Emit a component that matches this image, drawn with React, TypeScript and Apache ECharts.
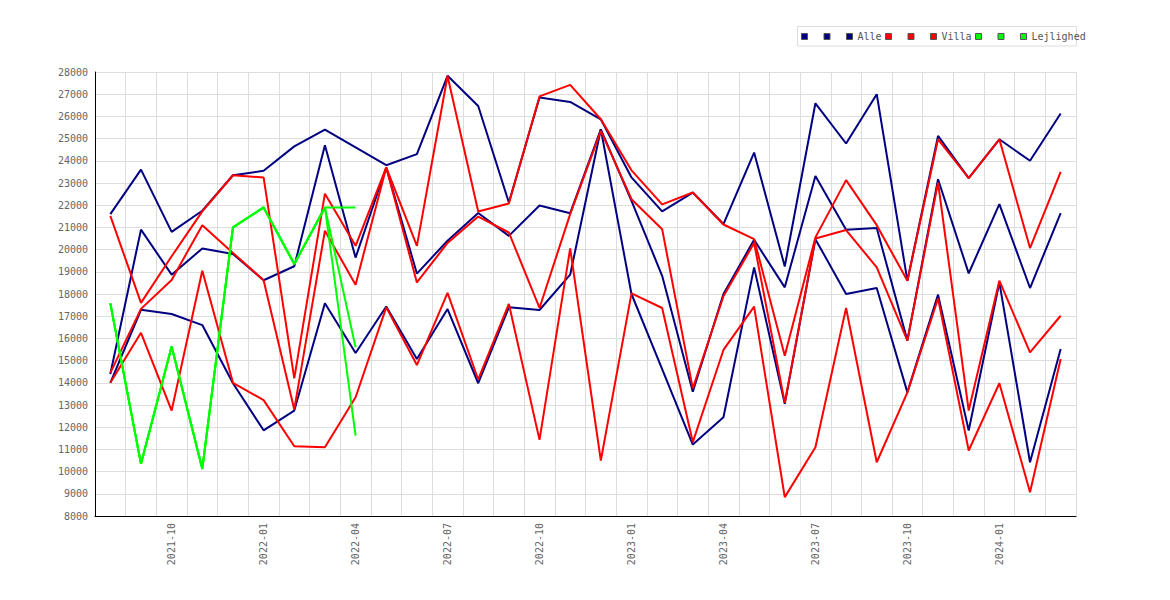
import React, { useEffect, useRef } from 'react';
import * as echarts from 'echarts';

const months = [
  '2021-08', '2021-09', '2021-10', '2021-11', '2021-12', '2022-01', '2022-02', '2022-03',
  '2022-04', '2022-05', '2022-06', '2022-07', '2022-08', '2022-09', '2022-10', '2022-11',
  '2022-12', '2023-01', '2023-02', '2023-03', '2023-04', '2023-05', '2023-06', '2023-07',
  '2023-08', '2023-09', '2023-10', '2023-11', '2023-12', '2024-01', '2024-02', '2024-03',
];

const alleHigh = [21600, 23600, 20800, 21750, 23350, 23550, 24650, 25400, 24600, 23800, 24300, 27830, 26470, 22120, 26850, 26650, 25870, 23250, 21720, 22570, 21150, 24370, 19240, 26590, 24780, 27000, 18600, 25120, 23220, 24970, 24000, 26130];
const alleMid = [14400, 20900, 18870, 20050, 19800, 18620, 19250, 24700, 19640, 23700, 18920, 20400, 21650, 20620, 21990, 21640, 25420, 22200, 18820, 13600, 18000, 20440, 18300, 23320, 20890, 20970, 15900, 23170, 18930, 22050, 18270, 21640];
const alleLow = [14000, 17290, 17100, 16600, 13980, 11860, 12750, 17580, 15340, 17440, 15070, 17320, 13980, 17400, 17280, 18870, 25420, 18000, 14620, 11220, 12450, 19200, 13050, 20470, 18000, 18270, 13570, 17970, 11850, 18520, 10420, 15520];

const villaHigh = [21520, 17600, 19700, 21720, 23350, 23250, 14200, 22520, 20170, 23700, 20170, 27820, 21720, 22080, 26900, 27420, 25870, 23570, 22040, 22570, 21130, 20470, 15220, 20550, 23130, 21100, 18600, 24970, 23220, 24970, 20070, 23500];
const villaMid = [14450, 17330, 18630, 21100, 19850, 18620, 12800, 20850, 18420, 23700, 18520, 20300, 21490, 20770, 17370, 21600, 25350, 22270, 20920, 13750, 17900, 20300, 13100, 20500, 20880, 19200, 15900, 23020, 12750, 18600, 15370, 17020];
const villaLow = [14000, 16250, 12750, 19050, 14000, 13220, 11140, 11100, 13350, 17400, 14800, 18050, 14150, 17550, 11430, 20050, 10500, 18030, 17370, 11330, 15480, 17430, 8850, 11100, 17370, 10420, 13570, 17800, 10950, 13980, 9070, 15070];

const lejHigh = [17580, 10350, 15630, 10120, 21000, 21900, 19350, 21900, 21900];
const lejMid = [17580, 10350, 15630, 10120, 21000, 21900, 19350, 21900, 15600];
const lejLow = [17580, 10350, 15630, 10120, 21000, 21900, 19350, 21900, 11620];

const groups = [
  { label: 'Alle', color: '#000080', series: [alleHigh, alleMid, alleLow], legendLeft: 801 },
  { label: 'Villa', color: '#ff0000', series: [villaHigh, villaMid, villaLow], legendLeft: 885 },
  { label: 'Lejlighed', color: '#00ff00', series: [lejHigh, lejMid, lejLow], legendLeft: 975 },
];
const quarterMonths = ['01', '04', '07', '10'];

const MONO = '"DejaVu Sans Mono", monospace';

const seriesName = (label: string, k: number) => (k === 2 ? label : `${label} ${k + 1}`);

const App: React.FC = () => {
  const chartRef = useRef<HTMLDivElement | null>(null);

  useEffect(() => {
    if (!chartRef.current) return;
    const chart = echarts.init(chartRef.current, undefined, { renderer: 'svg' });

    const labels = groups.map((g) => g.label);

    const option = {
      animation: false,
      backgroundColor: '#ffffff',
      graphic: [
        {
          type: 'rect',
          shape: { x: 797.5, y: 26.5, width: 279, height: 19.5 },
          style: { fill: 'none', stroke: '#dddddd', lineWidth: 1 },
          silent: true,
        },
      ],
      legend: groups.map((g) => ({
        left: g.legendLeft,
        top: 30.5,
        padding: 0,
        icon: 'rect',
        itemWidth: 6,
        itemHeight: 6,
        itemGap: 11,
        data: [0, 1, 2].map((k) => seriesName(g.label, k)),
        itemStyle: { borderColor: '#555555', borderWidth: 1 },
        formatter: (name: string) => (labels.includes(name) ? name : ''),
        textStyle: { fontFamily: MONO, fontSize: 10, lineHeight: 12, color: '#555555' },
      })),
      grid: { left: 95, right: 94, top: 72, bottom: 84, containLabel: false },
      xAxis: {
        type: 'category',
        data: months,
        boundaryGap: true,
        axisLine: { show: true, onZero: false, lineStyle: { color: '#000000', width: 1 } },
        axisTick: { show: false },
        splitLine: { show: true, interval: 0, lineStyle: { color: '#dddddd', width: 1 } },
        axisLabel: {
          rotate: 90,
          margin: 7,
          color: '#666666',
          fontFamily: MONO,
          fontSize: 10,
          interval: (_i: number, value: string) => quarterMonths.includes(value.slice(5, 7)),
        },
      },
      yAxis: {
        type: 'value',
        min: 8000,
        max: 28000,
        interval: 1000,
        axisLine: { show: true, lineStyle: { color: '#000000', width: 1 } },
        axisTick: { show: false },
        splitLine: { show: true, lineStyle: { color: '#dddddd', width: 1 } },
        axisLabel: {
          margin: 7,
          color: '#666666',
          fontFamily: MONO,
          fontSize: 10,
          formatter: (v: number) => String(v),
        },
      },
      series: groups.flatMap((g) =>
        g.series.map((data, k) => ({
          name: seriesName(g.label, k),
          type: 'line',
          data,
          color: g.color,
          showSymbol: false,
          symbol: 'none',
          lineStyle: { color: g.color, width: 2 },
        })),
      ),
    };

    chart.setOption(option);
    return () => {
      chart.dispose();
    };
  }, []);

  return (
    <div
      ref={chartRef}
      style={{ position: 'fixed', left: 0, top: 0, width: '1170px', height: '600px', backgroundColor: 'white' }}
    />
  );
};

export default App;
